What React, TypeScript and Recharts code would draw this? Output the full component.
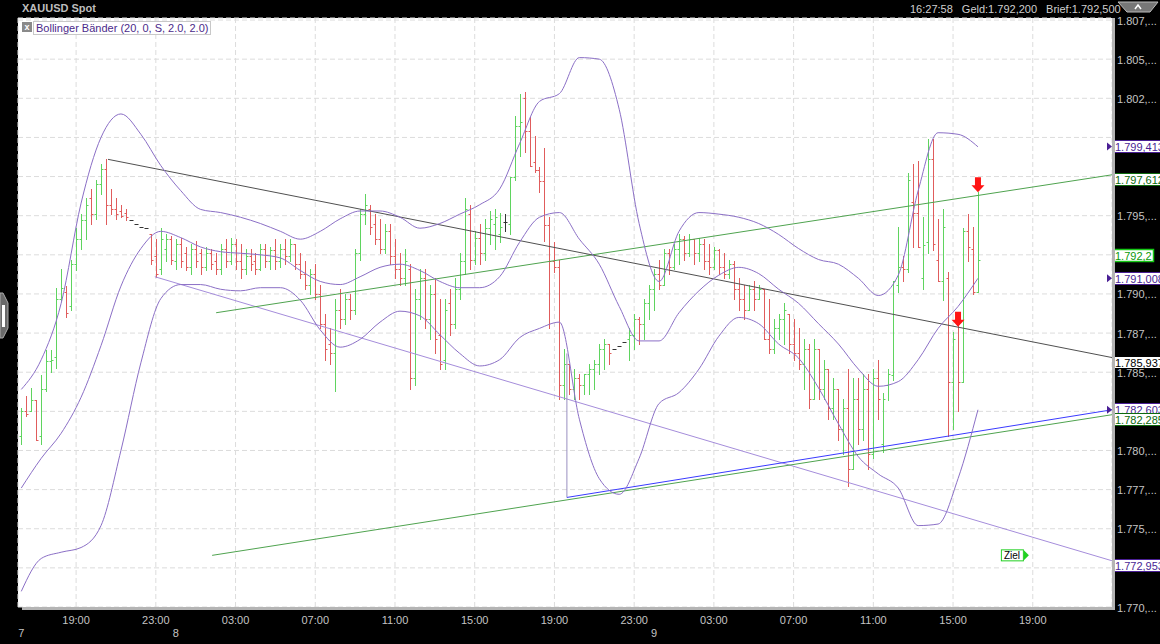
import React from 'react'
import {
  ComposedChart, Bar, Line, XAxis, YAxis, CartesianGrid,
  ReferenceLine, ReferenceDot,
} from 'recharts'

const FONT = '"Liberation Sans", Arial, sans-serif'

// 15 min bars, 7th 16:15 -> 9th 16:15
const opens = [
  1.7809, 1.7825, 1.7825, 1.7832, 1.7809, 1.7839, 1.7857, 1.7860, 1.7897, 1.7901,
  1.7892, 1.7919, 1.7935, 1.7947, 1.7961, 1.7951, 1.7970, 1.7980, 1.7957, 1.7954,
  1.7953, 1.7952, 1.7947, 1.7945, 1.7943, 1.7942, 1.7938, 1.7924, 1.7916, 1.7929,
  1.7935, 1.7921, 1.7932, 1.7926, 1.7917, 1.7929, 1.7926, 1.7917, 1.7926, 1.7921,
  1.7916, 1.7929, 1.7921, 1.7932, 1.7921, 1.7916, 1.7924, 1.7921, 1.7916, 1.7929,
  1.7921, 1.7928, 1.7921, 1.7929, 1.7924, 1.7932, 1.7919, 1.7913, 1.7906, 1.7913,
  1.7900, 1.7881, 1.7868, 1.7862, 1.7890, 1.7884, 1.7897, 1.7890, 1.7926, 1.7951,
  1.7954, 1.7945, 1.7935, 1.7929, 1.7940, 1.7924, 1.7916, 1.7910, 1.7916, 1.7846,
  1.7897, 1.7910, 1.7884, 1.7900, 1.7874, 1.7858, 1.7894, 1.7881, 1.7903, 1.7921,
  1.7951, 1.7922, 1.7936, 1.7926, 1.7942, 1.7945, 1.7938, 1.7946, 1.7945, 1.7975,
  1.8007, 1.8025, 1.8004, 1.7984, 1.7979, 1.7972, 1.7944, 1.7921, 1.7917, 1.7842,
  1.7855, 1.7839, 1.7846, 1.7842, 1.7849, 1.7852, 1.7855, 1.7865, 1.7868, 1.7865,
  1.7867, 1.7869, 1.7871, 1.7874, 1.7884, 1.7881, 1.7894, 1.7903, 1.7913, 1.7906,
  1.7926, 1.7917, 1.7929, 1.7935, 1.7926, 1.7935, 1.7926, 1.7932, 1.7921, 1.7917,
  1.7928, 1.7917, 1.7913, 1.7919, 1.7903, 1.7897, 1.7890, 1.7903, 1.7897, 1.7903,
  1.7871, 1.7865, 1.7878, 1.7884, 1.7887, 1.7868, 1.7862, 1.7855, 1.7865, 1.7833,
  1.7865, 1.7839, 1.7852, 1.7827, 1.7839, 1.7814, 1.7827, 1.7788, 1.7833, 1.7814,
  1.7839, 1.7798, 1.7846, 1.7804, 1.7842, 1.7848, 1.7906, 1.7917, 1.7916, 1.7959,
  1.7952, 1.7910, 1.7933, 1.7986, 1.7922, 1.7908, 1.7910, 1.7844, 1.7882, 1.7844,
  1.7940, 1.7929, 1.7901,
]
const highs = [
  1.7827, 1.7835, 1.7840, 1.7832, 1.7848, 1.7864, 1.7864, 1.7904, 1.7916, 1.7905,
  1.7922, 1.7942, 1.7951, 1.7961, 1.7967, 1.7973, 1.7983, 1.7986, 1.7967, 1.7961,
  1.7957, 1.7954, 1.7947, 1.7945, 1.7943, 1.7942, 1.7938, 1.7935, 1.7942, 1.7938,
  1.7937, 1.7935, 1.7936, 1.7930, 1.7932, 1.7934, 1.7929, 1.7930, 1.7929, 1.7926,
  1.7932, 1.7935, 1.7936, 1.7935, 1.7932, 1.7929, 1.7929, 1.7926, 1.7932, 1.7932,
  1.7930, 1.7935, 1.7932, 1.7935, 1.7935, 1.7932, 1.7926, 1.7921, 1.7916, 1.7919,
  1.7906, 1.7887, 1.7878, 1.7897, 1.7903, 1.7900, 1.7900, 1.7929, 1.7954, 1.7964,
  1.7957, 1.7951, 1.7948, 1.7945, 1.7945, 1.7935, 1.7926, 1.7929, 1.7919, 1.7903,
  1.7916, 1.7916, 1.7906, 1.7910, 1.7897, 1.7897, 1.7903, 1.7910, 1.7926, 1.7961,
  1.7957, 1.7940, 1.7945, 1.7948, 1.7953, 1.7954, 1.7952, 1.7951, 1.7975, 1.8014,
  1.8028, 1.8029, 1.8013, 1.8001, 1.7981, 1.7993, 1.7949, 1.7933, 1.7922, 1.7865,
  1.7855, 1.7852, 1.7849, 1.7849, 1.7855, 1.7858, 1.7868, 1.7871, 1.7868, 1.7865,
  1.7867, 1.7869, 1.7878, 1.7887, 1.7885, 1.7897, 1.7906, 1.7916, 1.7922, 1.7929,
  1.7929, 1.7932, 1.7938, 1.7937, 1.7938, 1.7935, 1.7936, 1.7935, 1.7932, 1.7930,
  1.7929, 1.7926, 1.7922, 1.7921, 1.7910, 1.7906, 1.7906, 1.7908, 1.7906, 1.7903,
  1.7897, 1.7884, 1.7887, 1.7894, 1.7887, 1.7884, 1.7878, 1.7871, 1.7868, 1.7871,
  1.7865, 1.7858, 1.7852, 1.7846, 1.7839, 1.7833, 1.7852, 1.7846, 1.7846, 1.7849,
  1.7849, 1.7852, 1.7858, 1.7837, 1.7852, 1.7908, 1.7943, 1.7924, 1.7977, 1.7983,
  1.7985, 1.7949, 1.7999, 1.7999, 1.7948, 1.7954, 1.7914, 1.7876, 1.7882, 1.7942,
  1.7951, 1.7943, 1.7965,
]
const lows = [
  1.7804, 1.7822, 1.7825, 1.7807, 1.7804, 1.7838, 1.7850, 1.7853, 1.7896, 1.7885,
  1.7890, 1.7915, 1.7929, 1.7935, 1.7945, 1.7948, 1.7964, 1.7945, 1.7951, 1.7948,
  1.7949, 1.7947, 1.7947, 1.7945, 1.7943, 1.7942, 1.7919, 1.7911, 1.7913, 1.7921,
  1.7919, 1.7916, 1.7917, 1.7915, 1.7913, 1.7917, 1.7913, 1.7915, 1.7916, 1.7913,
  1.7913, 1.7917, 1.7919, 1.7916, 1.7910, 1.7913, 1.7915, 1.7913, 1.7915, 1.7917,
  1.7916, 1.7916, 1.7917, 1.7919, 1.7921, 1.7916, 1.7910, 1.7903, 1.7900, 1.7897,
  1.7878, 1.7858, 1.7855, 1.7838, 1.7878, 1.7881, 1.7884, 1.7887, 1.7922, 1.7945,
  1.7938, 1.7932, 1.7926, 1.7926, 1.7919, 1.7910, 1.7906, 1.7906, 1.7839, 1.7842,
  1.7884, 1.7878, 1.7871, 1.7862, 1.7852, 1.7852, 1.7874, 1.7878, 1.7897, 1.7913,
  1.7916, 1.7919, 1.7919, 1.7922, 1.7932, 1.7929, 1.7933, 1.7940, 1.7938, 1.7973,
  1.7988, 1.7991, 1.7982, 1.7978, 1.7965, 1.7934, 1.7878, 1.7914, 1.7833, 1.7833,
  1.7836, 1.7833, 1.7833, 1.7836, 1.7836, 1.7839, 1.7849, 1.7852, 1.7855, 1.7865,
  1.7867, 1.7869, 1.7858, 1.7865, 1.7868, 1.7871, 1.7884, 1.7890, 1.7903, 1.7906,
  1.7913, 1.7916, 1.7919, 1.7922, 1.7924, 1.7919, 1.7921, 1.7916, 1.7913, 1.7916,
  1.7913, 1.7910, 1.7910, 1.7897, 1.7890, 1.7884, 1.7890, 1.7890, 1.7897, 1.7871,
  1.7862, 1.7862, 1.7871, 1.7868, 1.7862, 1.7858, 1.7852, 1.7839, 1.7827, 1.7833,
  1.7833, 1.7833, 1.7820, 1.7820, 1.7807, 1.7798, 1.7777, 1.7788, 1.7804, 1.7807,
  1.7788, 1.7795, 1.7820, 1.7799, 1.7832, 1.7845, 1.7901, 1.7908, 1.7914, 1.7930,
  1.7930, 1.7903, 1.7926, 1.7928, 1.7908, 1.7896, 1.7809, 1.7814, 1.7825, 1.7844,
  1.7921, 1.7900, 1.7901,
]
const closes = [
  1.7825, 1.7823, 1.7832, 1.7807, 1.7839, 1.7857, 1.7858, 1.7897, 1.7904, 1.7888,
  1.7919, 1.7935, 1.7947, 1.7957, 1.7951, 1.7970, 1.7980, 1.7957, 1.7954, 1.7951,
  1.7950, 1.7949, 1.7947, 1.7945, 1.7943, 1.7942, 1.7922, 1.7913, 1.7935, 1.7935,
  1.7922, 1.7932, 1.7921, 1.7917, 1.7929, 1.7921, 1.7917, 1.7926, 1.7919, 1.7916,
  1.7929, 1.7921, 1.7932, 1.7921, 1.7916, 1.7924, 1.7919, 1.7916, 1.7929, 1.7921,
  1.7928, 1.7921, 1.7929, 1.7924, 1.7932, 1.7919, 1.7913, 1.7906, 1.7913, 1.7900,
  1.7881, 1.7865, 1.7862, 1.7890, 1.7884, 1.7897, 1.7890, 1.7926, 1.7951, 1.7957,
  1.7943, 1.7935, 1.7929, 1.7940, 1.7924, 1.7916, 1.7910, 1.7921, 1.7846, 1.7897,
  1.7910, 1.7884, 1.7900, 1.7871, 1.7855, 1.7890, 1.7881, 1.7903, 1.7921, 1.7954,
  1.7922, 1.7936, 1.7926, 1.7942, 1.7948, 1.7949, 1.7943, 1.7946, 1.7975, 1.8007,
  1.8010, 1.8004, 1.7982, 1.7979, 1.7972, 1.7944, 1.7921, 1.7917, 1.7842, 1.7855,
  1.7839, 1.7846, 1.7842, 1.7849, 1.7852, 1.7855, 1.7865, 1.7868, 1.7862, 1.7865,
  1.7867, 1.7869, 1.7874, 1.7884, 1.7881, 1.7894, 1.7903, 1.7913, 1.7906, 1.7926,
  1.7917, 1.7929, 1.7935, 1.7926, 1.7935, 1.7926, 1.7932, 1.7921, 1.7917, 1.7928,
  1.7917, 1.7913, 1.7919, 1.7903, 1.7897, 1.7890, 1.7903, 1.7897, 1.7903, 1.7871,
  1.7865, 1.7878, 1.7884, 1.7890, 1.7868, 1.7862, 1.7855, 1.7865, 1.7833, 1.7865,
  1.7839, 1.7852, 1.7827, 1.7839, 1.7814, 1.7827, 1.7788, 1.7833, 1.7814, 1.7839,
  1.7798, 1.7846, 1.7833, 1.7833, 1.7849, 1.7908, 1.7917, 1.7916, 1.7973, 1.7952,
  1.7930, 1.7931, 1.7986, 1.7932, 1.7908, 1.7943, 1.7844, 1.7871, 1.7844, 1.7940,
  1.7930, 1.7901, 1.7922,
]

// Bollinger (20, 2) read every 4th bar
const bandIdx = [
  0, 4, 8, 12, 16, 20, 24, 28, 32, 36, 40, 44, 48, 52, 56, 60, 64, 68, 72, 76,
  80, 84, 88, 92, 96, 100, 104, 108, 112, 116, 120, 124, 128, 132, 136, 140, 144, 148, 152, 156,
  160, 164, 168, 172, 176, 180, 184, 188, 192,
]
const upperBand = [
  1.7839, 1.7858, 1.7894, 1.7958, 1.8000, 1.8015, 1.8002, 1.7982, 1.7966, 1.7954,
  1.7952, 1.7949, 1.7945, 1.7940, 1.7935, 1.7940, 1.7948, 1.7953, 1.7953, 1.7949,
  1.7942, 1.7945, 1.7951, 1.7957, 1.7967, 1.7996, 1.8023, 1.8028, 1.8051, 1.8050,
  1.8018, 1.7945, 1.7908, 1.7940, 1.7952, 1.7951, 1.7949, 1.7945, 1.7938, 1.7929,
  1.7922, 1.7919, 1.7910, 1.7899, 1.7912, 1.7966, 1.8003, 1.8002, 1.7994,
]
const middleBand = [
  1.7776, 1.7795, 1.7811, 1.7834, 1.7867, 1.7905, 1.7929, 1.7940, 1.7936, 1.7930,
  1.7927, 1.7926, 1.7925, 1.7923, 1.7915, 1.7908, 1.7906, 1.7911, 1.7917, 1.7919,
  1.7915, 1.7908, 1.7904, 1.7904, 1.7911, 1.7933, 1.7949, 1.7952, 1.7935, 1.7919,
  1.7892, 1.7870, 1.7870, 1.7888, 1.7902, 1.7912, 1.7917, 1.7913, 1.7903, 1.7894,
  1.7881, 1.7868, 1.7852, 1.7841, 1.7844, 1.7858, 1.7878, 1.7892, 1.7910,
]
const lowerBand = [
  1.7710, 1.7731, 1.7735, 1.7738, 1.7752, 1.7800, 1.7856, 1.7897, 1.7906, 1.7906,
  1.7903, 1.7902, 1.7904, 1.7904, 1.7896, 1.7877, 1.7866, 1.7871, 1.7882, 1.7889,
  1.7886, 1.7874, 1.7862, 1.7854, 1.7858, 1.7872, 1.7878, 1.7882, 1.7820, 1.7782,
  1.7772, 1.7795, 1.7830, 1.7837, 1.7852, 1.7873, 1.7885, 1.7881, 1.7868, 1.7859,
  1.7840, 1.7817, 1.7796, 1.7785, 1.7776, 1.7752, 1.7753, 1.7782, 1.7826,
]

const hourTicks = [11, 27, 43, 59, 75, 91, 107, 123, 139, 155, 171, 187, 203]
const hourLabels = ['19:00', '23:00', '03:00', '07:00', '11:00', '15:00', '19:00', '23:00', '03:00', '07:00', '11:00', '15:00', '19:00']
const dayTicks = [0, 31, 127]
const dayLabels = ['7', '8', '9']
const priceTicks = [
  1.77, 1.7725, 1.775, 1.7775, 1.78, 1.7825, 1.785, 1.7875,
  1.79, 1.7925, 1.795, 1.7975, 1.8, 1.8025, 1.805, 1.8075,
]

// drawn trend lines [start, end] as (bar index, price)
const blackLine = [{ x: 17.4, y: 1.7986 }, { x: 218.9, y: 1.785937 }]
const greenUpper = [{ x: 39.1, y: 1.7888 }, { x: 218.9, y: 1.797612 }]
const greenLower = [{ x: 38.3, y: 1.7733 }, { x: 218.9, y: 1.782285 }]
const purpleLine = [{ x: 26.8, y: 1.7911 }, { x: 218.9, y: 1.772953 }]
const blueLine = [{ x: 109.5, y: 1.7770 }, { x: 218.9, y: 1.7826 }]
const markLine = [{ x: 109.5, y: 1.7770 }, { x: 109.5, y: 1.7862 }]

const tagValues = [1.799413, 1.797612, 1.7922, 1.791008, 1.785937, 1.782603, 1.782285, 1.772953]
const tagTexts = ['1.799,413', '1.797,612', '1.792,2', '1.791,008', '1.785,937', '1.782,603', '1.782,285', '1.772,953']
const tagKinds = ['band', 'line', 'last', 'band', 'line', 'band', 'line', 'line']
const tagColors = ['#4a1f95', '#0d6a0d', '#16c916', '#4a1f95', '#000000', '#4a1f95', '#0d6a0d', '#4a1f95']

const arrowIdx = [192, 188]
const arrowPrice = [1.7965, 1.7879]

const X_DOMAIN = [-0.66, 218.9]
const GREEN = '#5fd45f'
const RED = '#e05c5c'
const BAND = '#8b6fc6'

function OhlcBar(props: any) {
  const { x, y, width, height, payload } = props
  if (payload == null || x == null || y == null) return null
  const cx = Math.round(x + width / 2) + 0.5
  const top = Math.min(y, y + height)
  const h = Math.abs(height)
  const span = payload.high - payload.low
  const at = (v: number) => (span > 0 ? top + ((payload.high - v) / span) * h : top)
  const c = payload.close > payload.open ? GREEN : payload.close < payload.open ? RED : '#333'
  const yo = Math.round(at(payload.open)) + 0.5
  const yc = Math.round(at(payload.close)) + 0.5
  return (
    <g>
      <line x1={cx} x2={cx} y1={Math.round(top)} y2={Math.round(top + h) + 1} stroke={c} />
      <line x1={cx - 2} x2={cx} y1={yo} y2={yo} stroke={c} />
      <line x1={cx} x2={cx + 2} y1={yc} y2={yc} stroke={c} />
    </g>
  )
}

function HourTick({ x, y, payload }: any) {
  const k = hourTicks.indexOf(payload.value)
  return (
    <text x={x} y={y + 17} textAnchor="middle" fill="#c4c4c4" fontSize={11} fontFamily={FONT}>
      {hourLabels[k]}
    </text>
  )
}

function DayTick({ x, y, payload }: any) {
  const k = dayTicks.indexOf(payload.value)
  return (
    <text x={x} y={y + 14} textAnchor="middle" fill="#c4c4c4" fontSize={11} fontFamily={FONT}>
      {dayLabels[k]}
    </text>
  )
}

// the price tags sit over the axis labels they cover
function PriceTick({ x, y, payload }: any) {
  const v = payload.value
  if (tagValues.some(t => Math.abs(t - v) < 0.0006)) return <g />
  const s = v.toFixed(4).slice(0, 5) + ',...'
  return (
    <text x={x + 5} y={y + 4.5} fill="#c4c4c4" fontSize={11} fontFamily={FONT}>{s}</text>
  )
}

function PriceTag({ cx, cy, k }: any) {
  const kind = tagKinds[k]
  const color = tagColors[k]
  const top = Math.round(kind === 'band' ? cy - 6.5 : kind === 'last' ? cy - 11 : cy - 2)
  const w = kind === 'last' ? 40 : 60
  return (
    <g>
      {kind === 'band' && (
        <polygon points={`${cx - 5},${cy - 4} ${cx},${cy} ${cx - 5},${cy + 4}`} fill={color} />
      )}
      <rect x={cx + 1.5} y={top + 0.5} width={w} height={12} fill="#fff" stroke={color} strokeWidth={kind === 'last' ? 1.5 : 1} />
      <text x={cx + 3} y={top + 10.5} fill={kind === 'last' ? '#0a9a0a' : color} fontSize={11} fontFamily={FONT}>
        {tagTexts[k]}
      </text>
    </g>
  )
}

function DownArrow({ cx, cy }: any) {
  return (
    <polygon
      points={`${cx - 3},${cy - 15} ${cx + 3},${cy - 15} ${cx + 3},${cy - 7} ${cx + 6.5},${cy - 7} ${cx},${cy} ${cx - 6.5},${cy - 7} ${cx - 3},${cy - 7}`}
      fill="#ff1414"
    />
  )
}

function ZielTag({ cx, cy }: any) {
  return (
    <g>
      <rect x={cx + 0.5} y={cy - 5.5} width={22} height={11} fill="#fff" stroke="#22d022" />
      <text x={cx + 3} y={cy + 4} fontSize={10} fill="#000" fontFamily={FONT}>Ziel</text>
      <polygon points={`${cx + 23},${cy - 5} ${cx + 28},${cy} ${cx + 23},${cy + 5}`} fill="#22d022" />
    </g>
  )
}

export default function App() {
  const bars = opens.map((o, i) => ({
    i, open: o, high: highs[i], low: lows[i], close: closes[i], range: [lows[i], highs[i]],
  }))
  const upperData = bandIdx.map((i, k) => ({ i, v: upperBand[k] }))
  const middleData = bandIdx.map((i, k) => ({ i, v: middleBand[k] }))
  const lowerData = bandIdx.map((i, k) => ({ i, v: lowerBand[k] }))

  return (
    <div style={{ position: 'absolute', left: 0, top: 0, width: 1160, height: 644, background: '#000', overflow: 'hidden', fontFamily: FONT }}>
      <ComposedChart width={1160} height={644} data={bars} margin={{ top: 18, right: 0, bottom: 0, left: 18 }}>
        <CartesianGrid stroke="#dcdcdc" strokeDasharray="5 3" fill="#fff" />
        <XAxis
          type="number" dataKey="i" domain={X_DOMAIN} ticks={hourTicks} interval={0}
          tick={HourTick} tickSize={0} tickMargin={0} axisLine={false} tickLine={false}
          height={16} allowDataOverflow
        />
        <XAxis
          xAxisId="day" type="number" dataKey="i" domain={X_DOMAIN} ticks={dayTicks} interval={0}
          tick={DayTick} tickSize={0} tickMargin={0} axisLine={false} tickLine={false}
          height={21} allowDataOverflow
        />
        <YAxis
          orientation="right" type="number" domain={[1.77, 1.80763]} ticks={priceTicks} interval={0}
          tick={PriceTick} tickSize={0} tickMargin={0} axisLine={false} tickLine={false}
          width={48} allowDataOverflow
        />

        <ReferenceLine segment={purpleLine} stroke="#a58ddb" ifOverflow="visible" />
        <ReferenceLine segment={greenUpper} stroke="#4fa34f" ifOverflow="visible" />
        <ReferenceLine segment={greenLower} stroke="#4fa34f" ifOverflow="visible" />
        <ReferenceLine segment={blackLine} stroke="#505050" ifOverflow="visible" />
        <ReferenceLine segment={markLine} stroke="#9a8fc0" ifOverflow="visible" />
        <ReferenceLine segment={blueLine} stroke="#3a3aff" ifOverflow="visible" />

        <Bar dataKey="range" shape={OhlcBar} barSize={3} isAnimationActive={false} />

        <Line data={upperData} dataKey="v" type="monotone" stroke={BAND} strokeWidth={1} dot={false} isAnimationActive={false} />
        <Line data={middleData} dataKey="v" type="monotone" stroke={BAND} strokeWidth={1} dot={false} isAnimationActive={false} />
        <Line data={lowerData} dataKey="v" type="monotone" stroke={BAND} strokeWidth={1} dot={false} isAnimationActive={false} />

        {arrowIdx.map((a, k) => (
          <ReferenceDot key={`ar${k}`} x={a} y={arrowPrice[k]} r={0} ifOverflow="visible" shape={DownArrow} />
        ))}
        <ReferenceDot x={196.6} y={1.7733} r={0} ifOverflow="visible" shape={ZielTag} />
        {tagValues.map((v, k) => (
          <ReferenceDot key={`tg${k}`} x={X_DOMAIN[1]} y={v} r={0} ifOverflow="visible"
            shape={(p: any) => <PriceTag {...p} k={k} />} />
        ))}
      </ComposedChart>

      {/* frame shadow */}
      <div style={{ position: 'absolute', left: 1112, top: 18, width: 3, height: 592, background: '#b4b4b4' }} />
      <div style={{ position: 'absolute', left: 22, top: 607, width: 1093, height: 3, background: '#b4b4b4' }} />

      {/* header */}
      <div style={{ position: 'absolute', left: 22, top: 2, color: '#bdbdbd', fontSize: 11, fontWeight: 'bold' }}>XAUUSD Spot</div>
      <div style={{ position: 'absolute', left: 910, top: 3, color: '#cfcfcf', fontSize: 11, display: 'flex', gap: 9, whiteSpace: 'nowrap' }}>
        <span>16:27:58</span><span>Geld:1.792,200</span><span>Brief:1.792,500</span>
      </div>
      <svg style={{ position: 'absolute', left: 0, top: 0 }} width={1160} height={644}>
        <polygon points="1118,2 1158,2 1150,12 1127,12" fill="#777" stroke="#bbb" />
        <polyline points="1135,9 1138,5 1141,9" fill="none" stroke="#fff" strokeWidth={1.5} />
        <polygon points="0,293 3,293 8,303 8,328 3,338 0,338" fill="#6a6a6a" stroke="#aaa" />
        <rect x={2} y={305} width={3} height={22} fill="#fff" />
      </svg>

      {/* indicator legend */}
      <div style={{ position: 'absolute', left: 22, top: 22, width: 10, height: 10, background: '#8a8a8a', color: '#fff', fontSize: 9, lineHeight: '10px', textAlign: 'center', fontWeight: 'bold' }}>x</div>
      <div style={{ position: 'absolute', left: 33, top: 21, height: 12, padding: '0 2px', border: '1px solid #c8c8c8', color: '#4b2a8a', fontSize: 11, lineHeight: '12px', whiteSpace: 'nowrap', background: '#fff' }}>
        Bollinger Bänder (20, 0, S, 2.0, 2.0)
      </div>
    </div>
  )
}
